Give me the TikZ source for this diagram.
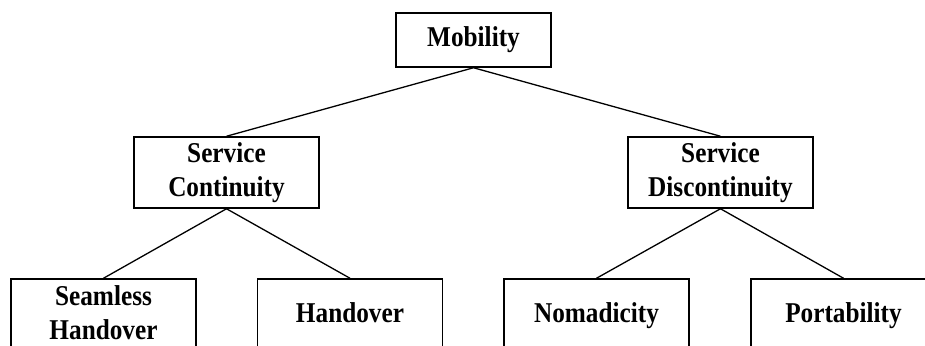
\documentclass[tikz,border=0pt]{standalone}
\usepackage{fontspec}
\setmainfont{Liberation Serif}[FakeStretch=0.88]
\begin{document}
\begin{tikzpicture}[x=1pt,y=-1pt,
  box/.style={draw,line width=1.5pt,rectangle,minimum width=185pt,inner sep=0pt},
  topbox/.style={box,minimum width=155pt,minimum height=54pt},
  midbox/.style={box,minimum height=71pt,align=center},
  leafbox/.style={box,minimum height=90pt},
  lbl/.style={inner sep=0pt,align=center,anchor=north},
  edge/.style={line width=1.3pt},
  every node/.style={font=\fontsize{28.7}{34}\selectfont\bfseries}]
\useasboundingbox (0,0) rectangle (925,345);
\clip (0,0) rectangle (925,345);

% tree levels
\node[topbox] (mob) at (473.5,40) {Mobility};
\node[midbox] (sc) at (226.5,172.5) {Service\\Continuity};
\node[midbox] (sd) at (720.5,172.5) {Service\\Discontinuity};

\node[leafbox] (seam) at (103.5,324) {};
\node[leafbox] (hand) at (350,324) {};
\node[leafbox] (noma) at (596.5,324) {};
\node[leafbox] (port) at (843.5,324) {};

% leaf captions
\node[lbl] (seamt) at ([yshift=-7pt]seam.north) {Seamless\\Handover};
\node[lbl] (handt) at ([yshift=-24pt]hand.north) {Handover};
\node[lbl] (nomat) at ([yshift=-24pt]noma.north) {Nomadicity};
\node[lbl] (portt) at ([yshift=-24pt]port.north) {Portability};

% connectors
\draw[edge] (mob.south) -- (sc.north);
\draw[edge] (mob.south) -- (sd.north);
\draw[edge] (sc.south) -- (seam.north);
\draw[edge] (sc.south) -- (hand.north);
\draw[edge] (sd.south) -- (noma.north);
\draw[edge] (sd.south) -- (port.north);
\end{tikzpicture}
\end{document}
